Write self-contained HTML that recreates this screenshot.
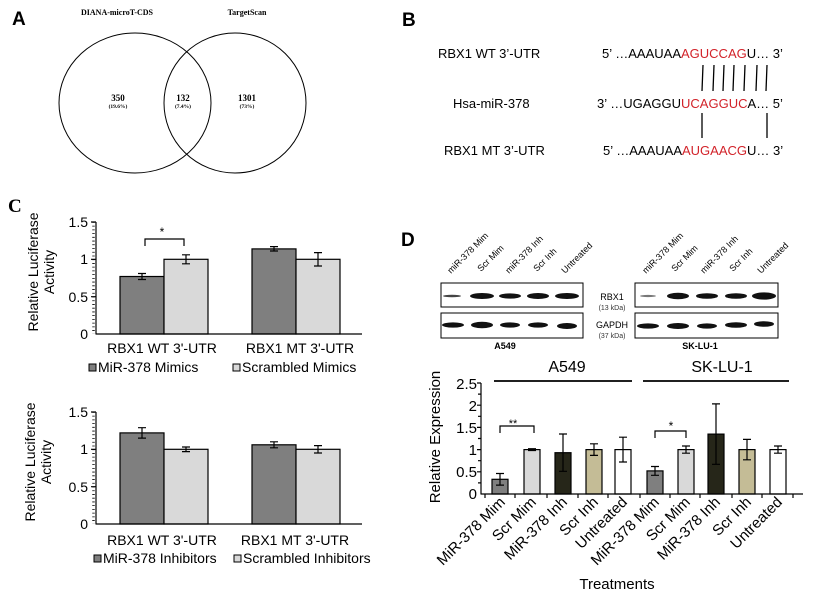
<!DOCTYPE html>
<html><head><meta charset="utf-8"><style>
html,body{margin:0;padding:0;background:#fff;}
svg{display:block;font-family:"Liberation Sans",Arial,sans-serif;}
</style></head><body>
<svg width="823" height="600" viewBox="0 0 823 600" xmlns="http://www.w3.org/2000/svg">
<!-- Panel A -->
<text x="12" y="25" font-size="19" font-weight="bold">A</text>
<text x="117" y="15" font-size="8" font-weight="bold" font-family="Liberation Serif,serif" text-anchor="middle">DIANA-microT-CDS</text>
<text x="247" y="15" font-size="8" font-weight="bold" font-family="Liberation Serif,serif" text-anchor="middle">TargetScan</text>
<ellipse cx="135" cy="103" rx="76" ry="70" fill="none" stroke="#000" stroke-width="1"/>
<ellipse cx="235" cy="103" rx="71" ry="70" fill="none" stroke="#000" stroke-width="1"/>
<g font-family="Liberation Serif,serif" font-weight="bold" text-anchor="middle">
<text x="118" y="101" font-size="9">350</text><text x="118" y="108" font-size="5.5">(19.6%)</text>
<text x="183" y="101" font-size="9">132</text><text x="183" y="108" font-size="5.5">(7.4%)</text>
<text x="247" y="101" font-size="9">1301</text><text x="247" y="108" font-size="5.5">(73%)</text>
</g>
<!-- Panel B -->
<text x="402" y="26" font-size="19" font-weight="bold">B</text>
<g font-size="13">
<text x="438" y="58">RBX1 WT 3’-UTR</text>
<text x="453" y="108">Hsa-miR-378</text>
<text x="444" y="155">RBX1 MT 3’-UTR</text>
<text x="602" y="58">5’ …AAAUAA<tspan fill="#d2232a">AGUCCAG</tspan>U… 3’</text>
<text x="597" y="108">3’ …UGAGGU<tspan fill="#d2232a">UCAGGUC</tspan>A… 5’</text>
<text x="603" y="155">5’ …AAAUAA<tspan fill="#d2232a">AUGAACG</tspan>U… 3’</text>
</g>
<g stroke="#000" stroke-width="1.3">
<line x1="703" y1="65" x2="702" y2="91"/><line x1="714" y1="65" x2="713" y2="91"/><line x1="724" y1="65" x2="723" y2="91"/><line x1="734" y1="65" x2="733" y2="91"/><line x1="745" y1="65" x2="744" y2="91"/><line x1="757" y1="65" x2="756" y2="91"/><line x1="767" y1="65" x2="766" y2="91"/>
<line x1="702" y1="113" x2="702" y2="138"/><line x1="767" y1="113" x2="767" y2="138"/>
</g>
<!-- Panel C -->
<text x="8" y="212" font-size="19" font-weight="bold" font-family="Liberation Serif,serif">C</text>
<g font-size="14">
<text transform="translate(38,272) rotate(-90)" text-anchor="middle">Relative Luciferase</text>
<text transform="translate(54,272) rotate(-90)" text-anchor="middle">Activity</text>
<text transform="translate(35,462) rotate(-90)" text-anchor="middle">Relative Luciferase</text>
<text transform="translate(51,462) rotate(-90)" text-anchor="middle">Activity</text>
<g text-anchor="end">
<text x="88" y="227">1.5</text><text x="88" y="264">1</text><text x="88" y="302">0.5</text><text x="88" y="339">0</text>
<text x="88" y="417">1.5</text><text x="88" y="454">1</text><text x="88" y="492">0.5</text><text x="88" y="529">0</text>
</g>
<g text-anchor="middle">
<text x="162" y="353">RBX1 WT 3'-UTR</text><text x="300" y="353">RBX1 MT 3'-UTR</text>
<text x="162" y="545">RBX1 WT 3'-UTR</text><text x="295" y="545">RBX1 MT 3'-UTR</text>
</g>
<text x="98" y="372">MiR-378 Mimics</text><text x="242" y="372">Scrambled Mimics</text>
<text x="103" y="563">MiR-378 Inhibitors</text><text x="243" y="563">Scrambled Inhibitors</text>
</g>
<g stroke="#000" stroke-width="1">
<rect x="89" y="364" width="7" height="7" fill="#7f7f7f"/><rect x="233" y="364" width="7" height="7" fill="#d9d9d9"/>
<rect x="94" y="555" width="7" height="7" fill="#7f7f7f"/><rect x="234" y="555" width="7" height="7" fill="#d9d9d9"/>
</g>
<g stroke="#000" stroke-width="1.2">
<rect x="120" y="276.5" width="44" height="57.5" fill="#7f7f7f"/>
<rect x="164" y="259.3" width="44" height="74.7" fill="#d9d9d9"/>
<rect x="252" y="248.9" width="44" height="85.1" fill="#7f7f7f"/>
<rect x="296" y="259.3" width="44" height="74.7" fill="#d9d9d9"/>
<path d="M142 273.5V279.5M138 273.5H146M138 279.5H146M186 254.8V263.8M182 254.8H190M182 263.8H190M274 246.6V251M270 246.6H278M270 251H278M318 252.6V266M314 252.6H322M314 266H322" fill="none"/>
<path d="M145 246V239H184V246" fill="none"/>
<line x1="96" y1="222" x2="96" y2="334.5"/><line x1="96" y1="334" x2="362" y2="334"/>
<line x1="93.5" y1="222" x2="93.5" y2="334" stroke-width="2.5" stroke-dasharray="0.8 2.93"/>
<path d="M91 222H96M91 259.3H96M91 296.7H96"/>
<rect x="120" y="432.9" width="44" height="91.1" fill="#7f7f7f"/>
<rect x="164" y="449.3" width="44" height="74.7" fill="#d9d9d9"/>
<rect x="252" y="444.8" width="44" height="79.2" fill="#7f7f7f"/>
<rect x="296" y="449.3" width="44" height="74.7" fill="#d9d9d9"/>
<path d="M142 427.7V438.1M138 427.7H146M138 438.1H146M186 447V451.6M182 447H190M182 451.6H190M274 441.8V447.8M270 441.8H278M270 447.8H278M318 445.6V453M314 445.6H322M314 453H322" fill="none"/>
<line x1="96" y1="412" x2="96" y2="524.5"/><line x1="96" y1="524" x2="362" y2="524"/>
<line x1="93.5" y1="412" x2="93.5" y2="524" stroke-width="2.5" stroke-dasharray="0.8 2.93"/>
<path d="M91 412H96M91 449.3H96M91 486.7H96"/>
</g>
<text x="162" y="236" font-size="12" text-anchor="middle">*</text>
<!-- Panel D -->
<text x="401" y="246" font-size="19" font-weight="bold">D</text>
<g font-size="9">
<text transform="translate(451,274) rotate(-45)">miR-378 Mim</text>
<text transform="translate(481,272) rotate(-45)">Scr Mim</text>
<text transform="translate(509,274) rotate(-45)">miR-378 Inh</text>
<text transform="translate(537,272) rotate(-45)">Scr Inh</text>
<text transform="translate(565,274) rotate(-45)">Untreated</text>
<text transform="translate(646,274) rotate(-45)">miR-378 Mim</text>
<text transform="translate(675,272) rotate(-45)">Scr Mim</text>
<text transform="translate(704,274) rotate(-45)">miR-378 Inh</text>
<text transform="translate(733,272) rotate(-45)">Scr Inh</text>
<text transform="translate(761,274) rotate(-45)">Untreated</text>
<text x="612" y="300" font-size="9" text-anchor="middle">RBX1</text>
<text x="612" y="310" font-size="7" text-anchor="middle" fill="#333">(13 kDa)</text>
<text x="612" y="328" font-size="9" text-anchor="middle">GAPDH</text>
<text x="612" y="338" font-size="7" text-anchor="middle" fill="#333">(37 kDa)</text>
<text x="505" y="349" font-weight="bold" text-anchor="middle">A549</text>
<text x="700" y="349" font-weight="bold" text-anchor="middle">SK-LU-1</text>
</g>
<g fill="none" stroke="#000" stroke-width="1">
<rect x="441" y="283" width="142" height="24"/><rect x="441" y="313" width="142" height="25"/>
<rect x="635" y="283" width="143" height="24"/><rect x="635" y="313" width="143" height="25"/>
</g>
<g fill="#111">
<ellipse cx="452" cy="296" rx="9" ry="1.3" fill="#444"/><ellipse cx="482" cy="296" rx="12" ry="3"/><ellipse cx="510" cy="296" rx="11" ry="2.6"/><ellipse cx="538" cy="296" rx="11" ry="3"/><ellipse cx="567" cy="296" rx="12" ry="3"/>
<ellipse cx="453" cy="325" rx="11" ry="2.6"/><ellipse cx="482" cy="325" rx="11" ry="3.2"/><ellipse cx="510" cy="325" rx="10" ry="2.6"/><ellipse cx="538" cy="325" rx="10" ry="2.6"/><ellipse cx="567" cy="326" rx="10" ry="3"/>
<ellipse cx="648" cy="296" rx="8" ry="1.1" fill="#777"/><ellipse cx="678" cy="296" rx="11" ry="3.2"/><ellipse cx="707" cy="296" rx="11" ry="2.8"/><ellipse cx="736" cy="296" rx="11" ry="2.8"/><ellipse cx="764" cy="296" rx="12" ry="3.6"/>
<ellipse cx="648" cy="326" rx="11" ry="2.6"/><ellipse cx="678" cy="326" rx="11" ry="3"/><ellipse cx="707" cy="326" rx="10" ry="2.6"/><ellipse cx="736" cy="325" rx="11" ry="2.8"/><ellipse cx="764" cy="324" rx="10" ry="2.8"/>
</g>
<g font-size="15">
<text x="567" y="372" font-size="16" text-anchor="middle">A549</text>
<text x="722" y="372" font-size="16" text-anchor="middle">SK-LU-1</text>
<text transform="translate(440,437) rotate(-90)" text-anchor="middle">Relative Expression</text>
<g text-anchor="end">
<text x="477" y="389">2.5</text>
<text x="477" y="411">2</text><text x="477" y="433">1.5</text><text x="477" y="455">1</text><text x="477" y="477">0.5</text><text x="477" y="499">0</text>
</g>
<g text-anchor="end">
<text transform="translate(506,503) rotate(-45)">MiR-378 Mim</text>
<text transform="translate(537,503) rotate(-45)">Scr Mim</text>
<text transform="translate(568,503) rotate(-45)">MiR-378 Inh</text>
<text transform="translate(599,503) rotate(-45)">Scr Inh</text>
<text transform="translate(628,503) rotate(-45)">Untreated</text>
<text transform="translate(660,503) rotate(-45)">MiR-378 Mim</text>
<text transform="translate(691,503) rotate(-45)">Scr Mim</text>
<text transform="translate(721,503) rotate(-45)">MiR-378 Inh</text>
<text transform="translate(752,503) rotate(-45)">Scr Inh</text>
<text transform="translate(783,503) rotate(-45)">Untreated</text>
</g>
<text x="617" y="589" text-anchor="middle">Treatments</text>
<text x="513" y="427" font-size="11" text-anchor="middle">**</text>
<text x="671" y="430" font-size="12" text-anchor="middle">*</text>
</g>
<g stroke="#000" stroke-width="1.2">
<line x1="494" y1="381" x2="632" y2="381" stroke-width="1.8"/>
<line x1="643" y1="381" x2="789" y2="381" stroke-width="1.8"/>
<rect x="492" y="479.3" width="16" height="14.7" fill="#7f7f7f"/>
<rect x="524" y="449.6" width="16" height="44.4" fill="#d9d9d9"/>
<rect x="555" y="452.7" width="16" height="41.3" fill="#262619"/>
<rect x="586" y="449.6" width="16" height="44.4" fill="#c4bc96"/>
<rect x="615" y="449.6" width="16" height="44.4" fill="#fff"/>
<rect x="647" y="470.9" width="16" height="23.1" fill="#7f7f7f"/>
<rect x="678" y="449.6" width="16" height="44.4" fill="#d9d9d9"/>
<rect x="708" y="434.1" width="16" height="59.9" fill="#262619"/>
<rect x="739" y="449.6" width="16" height="44.4" fill="#c4bc96"/>
<rect x="770" y="449.6" width="16" height="44.4" fill="#fff"/>
<path fill="none" d="M500 473.5V485.1M496 473.5H504M496 485.1H504
M532 448.7V450.5M528 448.7H536M528 450.5H536
M563 434V471.3M559 434H567M559 471.3H567
M594 443.8V455.4M590 443.8H598M590 455.4H598
M623 437.2V462M619 437.2H627M619 462H627
M655 466.5V475.3M651 466.5H659M651 475.3H659
M686 446V453.2M682 446H690M682 453.2H690
M716 403.9V464.3M712 403.9H720M712 464.3H720
M747 439.4V459.8M743 439.4H751M743 459.8H751
M778 446V453.2M774 446H782M774 453.2H782"/>
<path fill="none" d="M500 433V426H534V433M655 438V431H686V438"/>
<line x1="481" y1="383" x2="481" y2="494.5"/>
<line x1="481" y1="494" x2="803" y2="494"/>
<path d="M477 383H481M477 405.2H481M477 427.4H481M477 449.6H481M477 471.8H481M478 394.1H481M478 416.3H481M478 438.5H481M478 460.7H481M478 482.9H481"/>
<path d="M485 494V498M515 494V498M547 494V498M578 494V498M608 494V498M640 494V498M670 494V498M700 494V498M732 494V498M762 494V498M793 494V498"/>
</g>
</svg>
</body></html>
